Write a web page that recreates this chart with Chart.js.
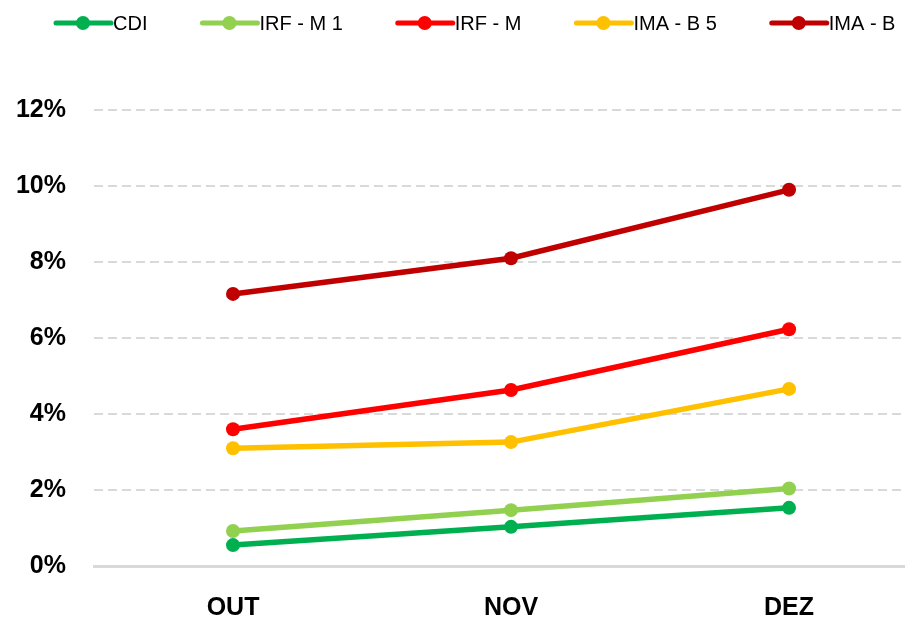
<!DOCTYPE html>
<html>
<head>
<meta charset="utf-8">
<script src="https://cdn.jsdelivr.net/npm/chart.js@4/dist/chart.umd.min.js"></script>
<style>
  html, body { margin: 0; padding: 0; background: #fff; }
  #wrap { width: 905px; height: 623px; }
</style>
</head>
<body>
<div id="wrap"><canvas id="chart" width="905" height="623"></canvas></div>
<script>
const months = ['OUT', 'NOV', 'DEZ'];
const seriesNames = ['CDI', 'IRF - M 1', 'IRF - M', 'IMA - B 5', 'IMA - B'];
const seriesColors = ['#00b050', '#92d050', '#ff0000', '#ffc000', '#c00000'];
const cdi = [0.55, 1.03, 1.53];
const irfM1 = [0.92, 1.47, 2.04];
const irfM = [3.60, 4.63, 6.23];
const imaB5 = [3.10, 3.26, 4.66];
const imaB = [7.16, 8.10, 9.90];
const yTicks = [0, 2, 4, 6, 8, 10, 12];

const allValues = [cdi, irfM1, irfM, imaB5, imaB];
const FONT = "'Liberation Sans', sans-serif";

const legendPlugin = {
    id: 'topLegend',
    afterDraw(chart) {
        const ctx = chart.ctx;
        const y = 23;
        let x = 56;
        ctx.save();
        ctx.font = '20px ' + FONT;
        ctx.textBaseline = 'middle';
        seriesNames.forEach((name, i) => {
            ctx.strokeStyle = seriesColors[i];
            ctx.fillStyle = seriesColors[i];
            ctx.lineWidth = 5;
            ctx.lineCap = 'round';
            ctx.beginPath();
            ctx.moveTo(x, y);
            ctx.lineTo(x + 55, y);
            ctx.stroke();
            ctx.beginPath();
            ctx.arc(x + 27, y, 7, 0, Math.PI * 2);
            ctx.fill();
            ctx.fillStyle = '#000';
            ctx.fillText(name, x + 57, y + 1);
            x += 57 + ctx.measureText(name).width + 55;
        });
        ctx.restore();
    }
};

new Chart(document.getElementById('chart'), {
    type: 'line',
    data: {
        datasets: allValues.map((vals, i) => ({
            label: seriesNames[i],
            data: vals.map((v, j) => ({ x: j, y: v })),
            borderColor: seriesColors[i],
            backgroundColor: seriesColors[i],
            borderWidth: 5.5,
            pointRadius: 7,
            pointBorderWidth: 0,
            fill: false,
            tension: 0,
        })),
    },
    options: {
        responsive: false,
        animation: false,
        layout: { autoPadding: false, padding: { top: 110, right: 0, bottom: 0, left: 0 } },
        scales: {
            x: {
                type: 'linear',
                min: -0.5,
                max: 2.417,
                afterBuildTicks: (axis) => { axis.ticks = months.map((m, j) => ({ value: j })); },
                afterFit: (axis) => { axis.height = 57; },
                ticks: {
                    callback: (v) => months[v],
                    font: { family: FONT, size: 25, weight: 'bold' },
                    color: '#000',
                    padding: 27,
                    maxRotation: 0,
                },
                grid: { display: false, drawTicks: false },
                border: { display: true, color: '#d9d9d9', width: 3 },
            },
            y: {
                min: 0,
                max: 12,
                afterBuildTicks: (axis) => { axis.ticks = yTicks.map((v) => ({ value: v })); },
                afterFit: (axis) => { axis.width = 94; },
                ticks: {
                    callback: (v) => v + '%',
                    font: { family: FONT, size: 25, weight: 'bold' },
                    color: '#000',
                    padding: 28,
                },
                grid: { color: '#d9d9d9', lineWidth: 2, drawTicks: false },
                border: { display: false, dash: [9, 5] },
            },
        },
        plugins: {
            legend: { display: false },
            tooltip: { enabled: false },
        },
    },
    plugins: [legendPlugin],
});
</script>
</body>
</html>
